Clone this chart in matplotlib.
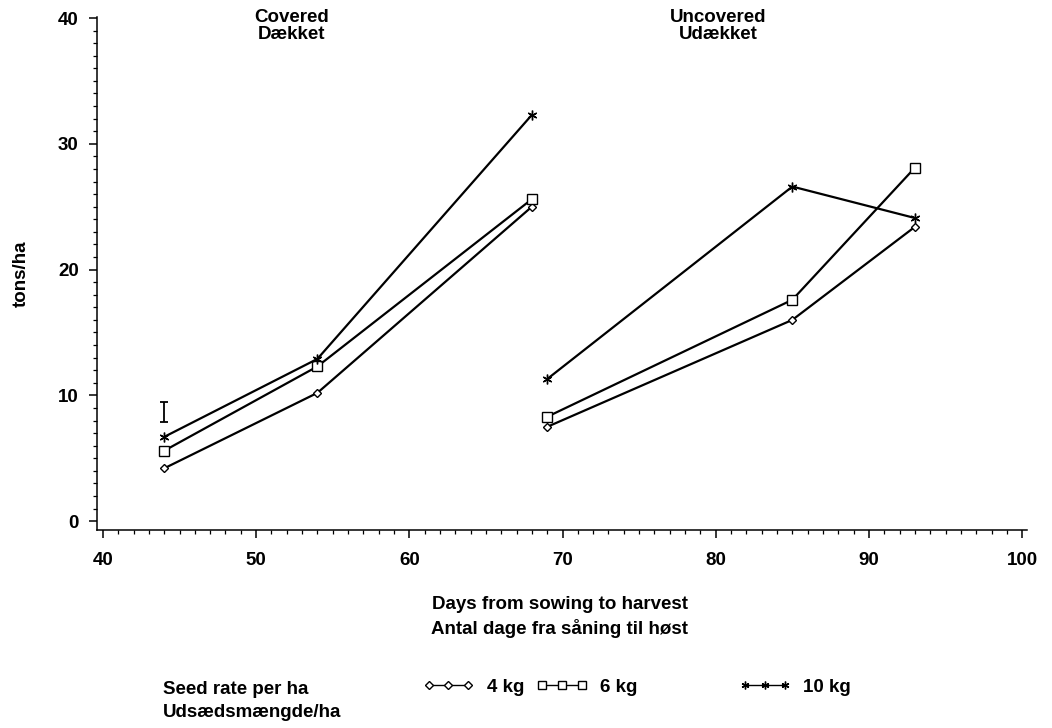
import matplotlib
matplotlib.use("Agg")
import matplotlib.pyplot as plt
from matplotlib.ticker import MultipleLocator

plt.rcParams['font.family'] = ['Liberation Sans', 'DejaVu Sans']
plt.rcParams['font.weight'] = 'bold'
plt.rcParams['axes.labelweight'] = 'bold'

# days from sowing to harvest
days_cov = [44, 54, 68]
days_unc = [69, 85, 93]

# tons/ha, covered
cov_4 = [4.2, 10.2, 25.0]
cov_6 = [5.6, 12.3, 25.6]
cov_10 = [6.7, 12.9, 32.3]

# tons/ha, uncovered
unc_4 = [7.5, 16.0, 23.4]
unc_6 = [8.3, 17.6, 28.1]
unc_10 = [11.3, 26.6, 24.1]

# LSD bar
lsd_x = 44
lsd_mid = 8.7
lsd_half = 0.8

series = [
    ("4 kg", cov_4, unc_4, dict(marker='D', markersize=4.5)),
    ("6 kg", cov_6, unc_6, dict(marker='s', markersize=7)),
    ("10 kg", cov_10, unc_10, dict(marker=(6, 2, 0), markersize=7)),
]

fs = 13.5
fig = plt.figure(figsize=(10.52, 7.28), dpi=100)
ax = fig.add_axes([0.092, 0.272, 0.884, 0.705])

handles = []
for name, yc, yu, mk in series:
    h, = ax.plot(days_cov, yc, color='black', lw=1.6, markerfacecolor='white',
                 markeredgecolor='black', markeredgewidth=1.0, **mk)
    ax.plot(days_unc, yu, color='black', lw=1.6, markerfacecolor='white',
            markeredgecolor='black', markeredgewidth=1.0, **mk)
    handles.append(h)

ax.errorbar([lsd_x], [lsd_mid], yerr=[lsd_half], color='black', lw=1.3,
            capsize=3, capthick=1.3, fmt='none')

ax.set_xlim(39.6, 100.3)
ax.set_ylim(-0.7, 40.1)
ax.set_xticks([40, 50, 60, 70, 80, 90, 100])
ax.set_yticks([0, 10, 20, 30, 40])
ax.xaxis.set_minor_locator(MultipleLocator(1))
ax.yaxis.set_minor_locator(MultipleLocator(1))
ax.tick_params(which='major', length=6, width=1.1, labelsize=fs)
ax.tick_params(which='minor', length=3, width=0.9)
ax.tick_params(axis='y', which='major', pad=7)
ax.tick_params(axis='x', which='major', pad=10)
for s in ['top', 'right']:
    ax.spines[s].set_visible(False)
for s in ['left', 'bottom']:
    ax.spines[s].set_linewidth(1.1)

ax.set_ylabel("tons/ha", fontsize=fs)
ax.yaxis.set_label_coords(-0.072, 0.5)
fig.text(0.532, 0.152, "Days from sowing to harvest\nAntal dage fra såning til høst",
         ha='center', va='center', fontsize=fs, linespacing=1.4)

fig.text(0.277, 0.988, "Covered\nDækket", ha='center', va='top', fontsize=fs, linespacing=1.0)
fig.text(0.683, 0.988, "Uncovered\nUdækket", ha='center', va='top', fontsize=fs, linespacing=1.0)

fig.text(0.155, 0.037, "Seed rate per ha\nUdsædsmængde/ha", ha='left', va='center',
         fontsize=fs, linespacing=1.4)

leg_x = [0.402, 0.510, 0.703]
for h, (name, _, _, mk), lx in zip(handles, series, leg_x):
    leg = fig.legend([h], [name], loc='center left', bbox_to_anchor=(lx, 0.056),
                     frameon=False, fontsize=fs, numpoints=3, handlelength=2.7,
                     handletextpad=0.7, borderpad=0, borderaxespad=0, markerscale=0.8)
    for lh in leg.legend_handles:
        lh.set_linewidth(1.0)

fig.savefig("out.png", dpi=100)
